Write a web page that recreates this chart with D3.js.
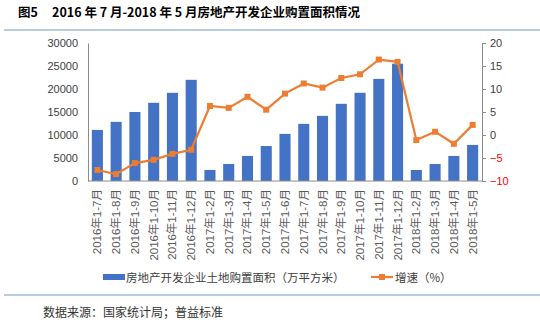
<!DOCTYPE html>
<html>
<head>
<meta charset="utf-8">
<script src="https://cdn.jsdelivr.net/npm/d3@7"></script>
<style>
  body { margin: 0; background: #fff; }
  text { font-family: "Noto Sans CJK SC", "Liberation Sans", sans-serif; }
</style>
</head>
<body>
<div id="chart"></div>
<script>
// 月份（累计）
var months = [
  '2016年1-7月', '2016年1-8月', '2016年1-9月', '2016年1-10月', '2016年1-11月', '2016年1-12月',
  '2017年1-2月', '2017年1-3月', '2017年1-4月', '2017年1-5月', '2017年1-6月', '2017年1-7月',
  '2017年1-8月', '2017年1-9月', '2017年1-10月', '2017年1-11月', '2017年1-12月',
  '2018年1-2月', '2018年1-3月', '2018年1-4月', '2018年1-5月'
];
// 土地购置面积（万平方米）
var area = [
  11100, 12860, 15000, 17000, 19170, 22000,
  2400, 3700, 5450, 7600, 10240, 12420,
  14160, 16780, 19170, 22200, 25500,
  2400, 3700, 5450, 7840
];
// 增速（%）
var growth = [
  -7.6, -8.5, -6.1, -5.4, -4.1, -3.2,
  6.3, 5.9, 8.3, 5.5, 9.0, 11.2,
  10.3, 12.4, 13.2, 16.4, 15.9,
  -1.1, 0.7, -1.9, 2.2
];
var leftTicks = [0, 5000, 10000, 15000, 20000, 25000, 30000];
var rightTicks = [-10, -5, 0, 5, 10, 15, 20];

var width = 540, height = 326;
var margin = { left: 88, right: 58, top: 43, bottom: 145 };
var barColor = '#4472C4', lineColor = '#ED7D31', axisColor = '#8c8c8c', textColor = '#404040';
var latin = '"Liberation Sans", "Noto Sans CJK SC", sans-serif';

var svg = d3.select('#chart').append('svg')
  .attr('width', width)
  .attr('height', height);

// 标题
svg.append('text')
  .attr('x', 18).attr('y', 17)
  .style('font-size', '12.5px').style('font-weight', 'bold').attr('fill', '#000')
  .text('图5\u00a0\u00a0\u00a0\u00a0\u00a02016 年 7 月-2018 年 5 月房地产开发企业购置面积情况');

svg.append('line')
  .attr('x1', 4).attr('x2', width).attr('y1', 30).attr('y2', 30)
  .attr('stroke', '#6c9ac9').attr('stroke-width', 1);
svg.append('line')
  .attr('x1', 4).attr('x2', width).attr('y1', 295).attr('y2', 295)
  .attr('stroke', '#6c9ac9').attr('stroke-width', 1);

var x = d3.scaleBand()
  .domain(months)
  .range([margin.left, width - margin.right])
  .paddingInner(0.41).paddingOuter(0.205);
var yL = d3.scaleLinear().domain([0, 30000]).range([181, margin.top]);
var yR = d3.scaleLinear().domain([-10, 20]).range([181, margin.top]);

// 柱子
svg.append('g').selectAll('rect')
  .data(area)
  .enter().append('rect')
  .attr('x', function (d, i) { return x(months[i]); })
  .attr('width', x.bandwidth())
  .attr('y', function (d) { return yL(d); })
  .attr('height', function (d) { return yL(0) - yL(d); })
  .attr('fill', barColor);

// 左轴
var gL = svg.append('g')
  .attr('transform', 'translate(' + margin.left + ',0)')
  .call(d3.axisLeft(yL).tickValues(leftTicks).tickFormat(d3.format('d')).tickSize(0).tickPadding(10));
gL.select('.domain').attr('stroke', axisColor);
gL.selectAll('text').style('font-size', '11px').attr('fill', textColor)
  .style('font-family', latin);

// 右轴
var gR = svg.append('g')
  .attr('transform', 'translate(' + (width - margin.right) + ',0)')
  .call(d3.axisRight(yR).tickValues(rightTicks).tickSize(4).tickPadding(4).tickSizeOuter(0));
gR.select('.domain').attr('stroke', axisColor);
gR.selectAll('.tick line').attr('stroke', axisColor);
gR.selectAll('text').style('font-size', '11px')
  .style('font-family', latin)
  .attr('fill', function (d) { return d < 0 ? '#ff0000' : textColor; })
  .text(function (d) { return d < 0 ? '\u2212' + Math.abs(d) : d; });

// 底部轴线与标签
svg.append('line')
  .attr('x1', margin.left).attr('x2', width - margin.right)
  .attr('y1', yL(0)).attr('y2', yL(0))
  .attr('stroke', axisColor);
svg.append('g').selectAll('text')
  .data(months)
  .enter().append('text')
  .attr('transform', function (d) {
    return 'translate(' + (x(d) + x.bandwidth() / 2 + 4) + ',189) rotate(-90)';
  })
  .attr('text-anchor', 'end')
  .style('font-size', '11.5px')
  .style('font-family', latin)
  .attr('fill', '#595959')
  .text(function (d) { return d; });

// 增速折线
var line = d3.line()
  .x(function (d, i) { return x(months[i]) + x.bandwidth() / 2; })
  .y(function (d) { return yR(d); });
svg.append('path')
  .datum(growth)
  .attr('d', line)
  .attr('fill', 'none')
  .attr('stroke', lineColor)
  .attr('stroke-width', 2.2);
svg.append('g').selectAll('rect')
  .data(growth)
  .enter().append('rect')
  .attr('x', function (d, i) { return x(months[i]) + x.bandwidth() / 2 - 3; })
  .attr('y', function (d) { return yR(d) - 3; })
  .attr('width', 6).attr('height', 6)
  .attr('fill', lineColor);

// 图例
var lg = svg.append('g').attr('transform', 'translate(0,277)');
lg.append('rect').attr('x', 103).attr('y', -3).attr('width', 22).attr('height', 6).attr('fill', barColor);
lg.append('text').attr('x', 126).attr('y', 4.5).style('font-size', '11.5px').attr('fill', textColor)
  .text('房地产开发企业土地购置面积（万平方米）');
lg.append('line').attr('x1', 371).attr('x2', 393).attr('y1', 0).attr('y2', 0)
  .attr('stroke', lineColor).attr('stroke-width', 2.2);
lg.append('rect').attr('x', 379).attr('y', -3).attr('width', 6).attr('height', 6).attr('fill', lineColor);
lg.append('text').attr('x', 395).attr('y', 4.5).style('font-size', '11.5px').attr('fill', textColor)
  .text('增速（%）');

// 数据来源
svg.append('text')
  .attr('x', 43).attr('y', 317)
  .style('font-size', '12px').attr('fill', '#333')
  .text('数据来源：国家统计局；普益标准');
</script>
</body>
</html>
